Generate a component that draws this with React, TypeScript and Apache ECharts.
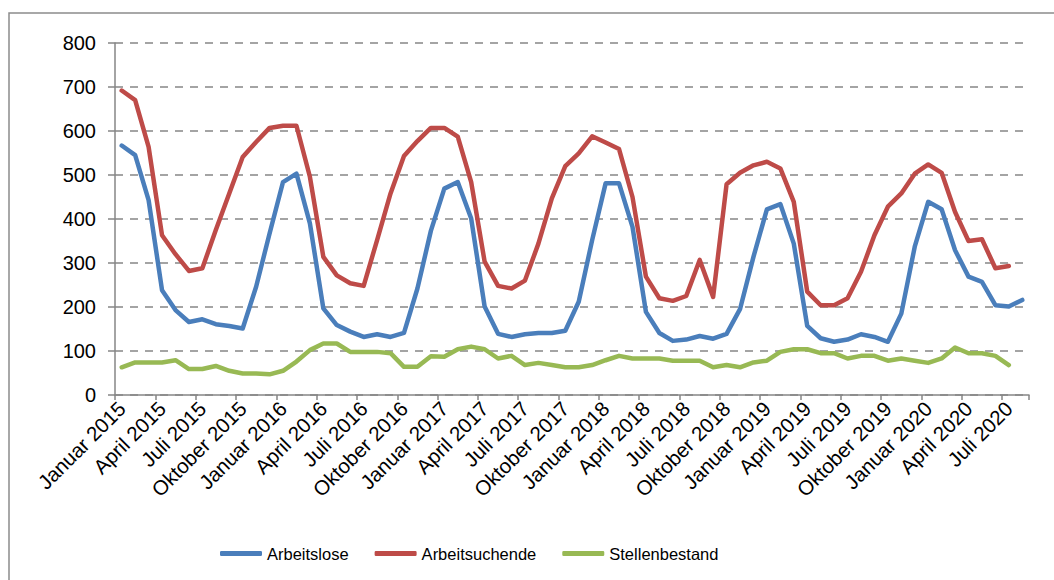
import React, { useEffect, useRef } from "react";
import * as echarts from "echarts";

const monthNames = ["Januar", "Februar", "März", "April", "Mai", "Juni", "Juli", "August", "September", "Oktober", "November", "Dezember"];
const years = [2015, 2016, 2017, 2018, 2019, 2020];
const monthCount = 68;
const categories: string[] = [];
for (let i = 0; i < monthCount; i++) {
  categories.push(monthNames[i % 12] + " " + years[Math.floor(i / 12)]);
}

const arbeitslose = [
  567, 545, 443, 238, 193, 166, 172, 161, 157, 151, 246, 367,
  484, 503, 390, 197, 159, 144, 132, 138, 132, 141, 242, 373,
  469, 484, 401, 201, 139, 132, 138, 141, 141, 146, 212, 352,
  481, 481, 382, 189, 141, 123, 126, 134, 128, 139, 195, 314,
  422, 434, 344, 157, 129, 121, 126, 138, 132, 121, 185, 337,
  439, 422, 329, 269, 257, 204, 201, 216,
];

const arbeitsuchende = [
  692, 670, 564, 363, 320, 282, 288, 375, 458, 541, 575, 607,
  612, 612, 496, 314, 272, 254, 248, 352, 458, 543, 577, 607,
  607, 587, 484, 303, 248, 242, 260, 344, 447, 520, 549, 588,
  574, 559, 450, 269, 220, 214, 225, 307, 223, 479, 505, 522,
  530, 515, 439, 235, 204, 204, 220, 280, 363, 428, 458, 503,
  524, 505, 416, 350, 354, 288, 293, null,
];

const stellenbestand = [
  63, 74, 74, 74, 79, 59, 59, 66, 55, 49, 49, 47,
  55, 76, 102, 117, 117, 98, 98, 98, 95, 64, 64, 88,
  87, 104, 110, 104, 83, 89, 68, 73, 68, 63, 63, 68,
  79, 89, 83, 83, 83, 78, 78, 78, 63, 68, 63, 74,
  78, 98, 104, 104, 95, 95, 83, 89, 89, 78, 83, 78,
  73, 83, 108, 95, 95, 89, 68, null,
];

const seriesNames = ["Arbeitslose", "Arbeitsuchende", "Stellenbestand"];
const seriesColors = ["#4A7EBB", "#BE4B48", "#98B954"];
const seriesData = [arbeitslose, arbeitsuchende, stellenbestand];

const FONT = "'Liberation Sans', Arial, sans-serif";

export default function App() {
  const ref = useRef<HTMLDivElement>(null);
  useEffect(() => {
    if (!ref.current) return;
    const chart = echarts.init(ref.current, null, { renderer: "svg" });
    chart.setOption({
      animation: false,
      backgroundColor: "#ffffff",
      graphic: [
        {
          type: "rect",
          shape: { x: 9, y: 13, width: 1080, height: 600 },
          style: { fill: "none", stroke: "#8C8C8C", lineWidth: 1.5 },
          silent: true,
        },
      ],
      grid: { left: 115, right: 25, top: 43, bottom: 185, containLabel: false },
      legend: {
        left: 215,
        top: 540,
        itemWidth: 42,
        itemHeight: 5,
        itemGap: 26,
        icon: "roundRect",
        textStyle: { fontFamily: FONT, fontSize: 16.5, color: "#000" },
        data: seriesNames,
      },
      xAxis: {
        type: "category",
        data: categories,
        boundaryGap: true,
        axisLine: { lineStyle: { color: "#868686", width: 1.5 } },
        axisTick: {
          show: true,
          interval: 2,
          length: 5,
          alignWithLabel: false,
          lineStyle: { color: "#868686", width: 1.5 },
        },
        axisLabel: {
          interval: 2,
          rotate: 45,
          margin: 10,
          fontFamily: FONT,
          fontSize: 20.5,
          color: "#000",
        },
        splitLine: { show: false },
      },
      yAxis: {
        type: "value",
        min: 0,
        max: 800,
        interval: 100,
        axisLine: { show: true, lineStyle: { color: "#868686", width: 1.5 } },
        axisTick: { show: true, length: 7, lineStyle: { color: "#868686", width: 1.5 } },
        axisLabel: { margin: 19, fontFamily: FONT, fontSize: 20, color: "#000" },
        splitLine: {
          show: true,
          lineStyle: { color: "#868686", width: 1.5, type: [8, 7] },
        },
      },
      series: seriesNames.map((name, i) => ({
        name,
        type: "line",
        data: seriesData[i],
        showSymbol: false,
        symbol: "none",
        smooth: false,
        connectNulls: false,
        itemStyle: { color: seriesColors[i] },
        lineStyle: { color: seriesColors[i], width: 4.5, cap: "round", join: "round" },
      })),
    });
    return () => chart.dispose();
  }, []);
  return (
    <div
      ref={ref}
      style={{ position: "fixed", left: 0, top: 0, width: 1054, height: 580 }}
    />
  );
}
